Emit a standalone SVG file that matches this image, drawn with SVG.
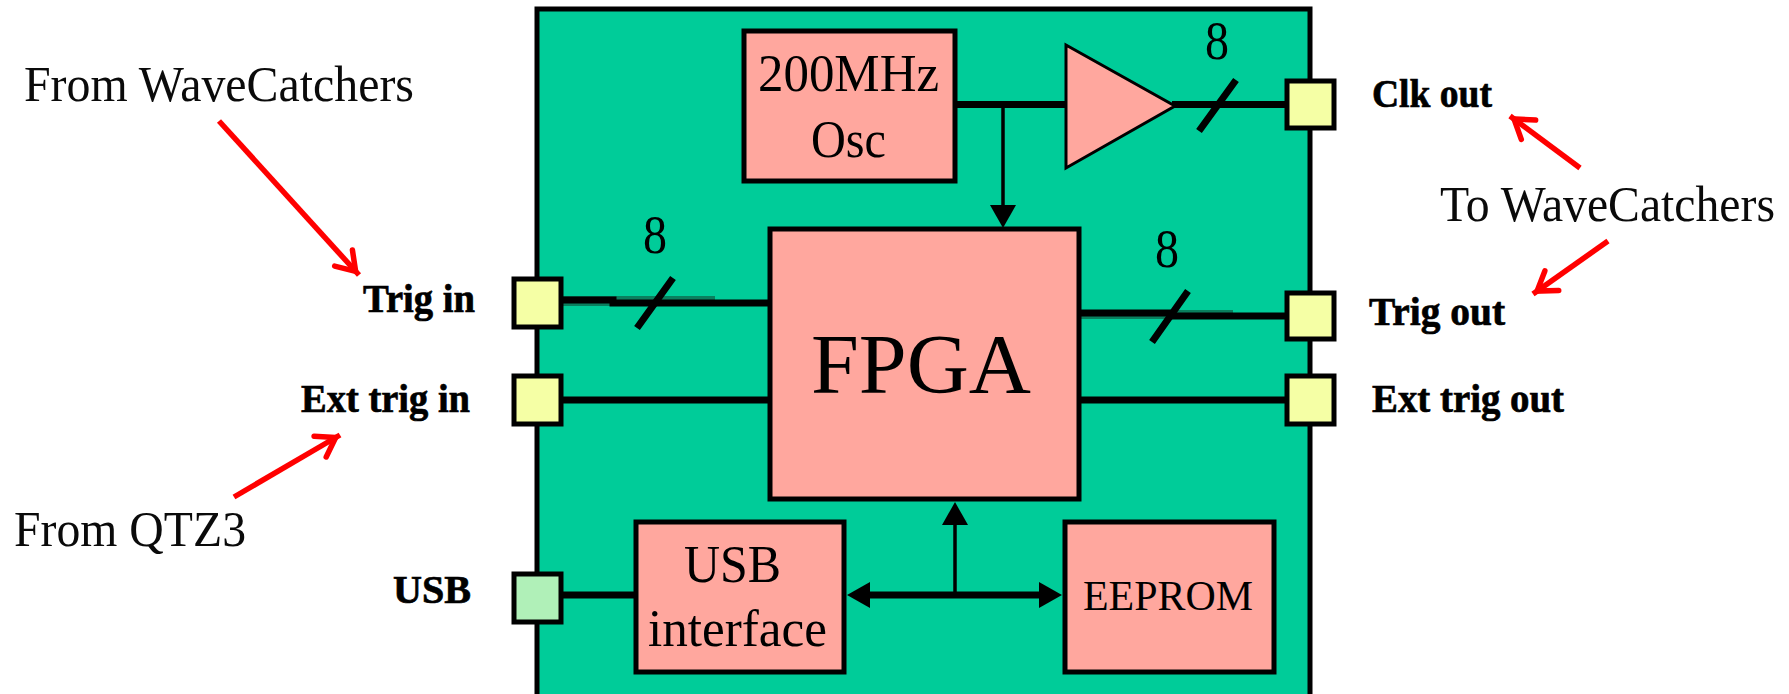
<svg xmlns="http://www.w3.org/2000/svg" width="1789" height="694" viewBox="0 0 1789 694">
<style>
.box{fill:#FFA79E;stroke:#000;stroke-width:5}
.port{fill:#F5FFA5;stroke:#000;stroke-width:5}
.usb{fill:#B0F0B8;stroke:#000;stroke-width:5}
.w{stroke:#000;stroke-width:7;fill:none}
.t{stroke:#000;stroke-width:3.500;fill:none}
.s{stroke:#000;stroke-width:7;fill:none}
.band{fill:#0A7F5E;stroke:none}
.r{stroke:#FF0000;stroke-width:5.500;fill:none}
text{font-family:"Liberation Serif","Times New Roman",serif;fill:#000}
.in{font-size:52px}
.num{font-size:54px}
.lab{font-weight:bold;font-size:41px;stroke:#000;stroke-width:0.700}
.note{font-size:50px;fill:#0A0A0A}
</style>
<defs>
<marker id="head" markerUnits="userSpaceOnUse" markerWidth="24" markerHeight="26" refX="8" refY="13" orient="auto-start-reverse"><path d="M0,0 L23,13 L0,26 Z" fill="#000"/></marker>
<marker id="open" markerUnits="userSpaceOnUse" markerWidth="34" markerHeight="34" refX="29" refY="15" orient="auto" overflow="visible"><path d="M6,3 L24,15 L6,27" fill="none" stroke="#FF0000" stroke-width="5.500" stroke-linecap="round"/></marker>
</defs>
<rect width="1789" height="694" fill="#FFF"/>
<g id="board"><rect x="537" y="9" width="773" height="690" fill="#00CC99" stroke="#000" stroke-width="5"/></g>
<g id="connectors">
<rect class="band" x="563" y="296" width="152" height="10"/>
<rect class="band" x="1079" y="310" width="154" height="9"/>
<path class="w" d="M955,104.500H1066M1172,104.500H1287"/>
<path class="t" d="M1003,104V213" marker-end="url(#head)"/>
<path class="w" d="M563,300H613V303H770" stroke-width="5"/>
<path class="w" d="M1079,313H1170V316H1287" stroke-width="5"/>
<path class="w" d="M563,400H770M1079,400H1287M563,595H636"/>
<path class="w" d="M862,595H1047" marker-start="url(#head)" marker-end="url(#head)"/>
<path class="t" d="M955,595V517" marker-end="url(#head)"/>
<path class="s" d="M1236,80L1199,131M673,278L637,328M1188,291L1152,342"/>
<path class="r" d="M219,121L359,275" marker-end="url(#open)"/>
<path class="r" d="M234,497L340,435" marker-end="url(#open)"/>
<path class="r" d="M1580,168L1510,116" marker-end="url(#open)"/>
<path class="r" d="M1608,241L1533,294" marker-end="url(#open)"/>
</g>
<g id="osc"><rect class="box" x="744" y="31" width="211" height="150"/><text class="in" x="758" y="91" textLength="181" lengthAdjust="spacingAndGlyphs">200MHz</text><text class="in" x="811" y="157" textLength="75" lengthAdjust="spacingAndGlyphs">Osc</text></g>
<g id="amp"><polygon points="1066,45 1175,106 1066,168" fill="#FFA79E" stroke="#000" stroke-width="3"/></g>
<g id="fpga"><rect class="box" x="770" y="229" width="309" height="270"/><text x="811" y="393" font-size="85" textLength="220" lengthAdjust="spacingAndGlyphs">FPGA</text></g>
<g id="usbif"><rect class="box" x="636" y="522" width="208" height="150"/><text class="in" x="684" y="582" textLength="97" lengthAdjust="spacingAndGlyphs">USB</text><text class="in" x="648" y="646" textLength="179" lengthAdjust="spacingAndGlyphs">interface</text></g>
<g id="eeprom"><rect class="box" x="1065" y="522" width="209" height="150"/><text x="1083" y="610" font-size="42" textLength="170" lengthAdjust="spacingAndGlyphs">EEPROM</text></g>
<g id="port-clk-out"><rect class="port" x="1287" y="81" width="47" height="47"/><text class="lab" x="1372" y="107" textLength="120" lengthAdjust="spacingAndGlyphs">Clk out</text></g>
<g id="port-trig-out"><rect class="port" x="1287" y="293" width="47" height="46"/><text class="lab" x="1369" y="325" textLength="136" lengthAdjust="spacingAndGlyphs">Trig out</text></g>
<g id="port-ext-out"><rect class="port" x="1287" y="376" width="47" height="48"/><text class="lab" x="1372" y="412" textLength="192" lengthAdjust="spacingAndGlyphs">Ext trig out</text></g>
<g id="port-trig-in"><rect class="port" x="514" y="279" width="47" height="48"/><text class="lab" x="363" y="312" textLength="112" lengthAdjust="spacingAndGlyphs">Trig in</text></g>
<g id="port-ext-in"><rect class="port" x="514" y="376" width="47" height="48"/><text class="lab" x="301" y="412" textLength="169" lengthAdjust="spacingAndGlyphs">Ext trig in</text></g>
<g id="port-usb"><rect class="usb" x="514" y="574" width="47" height="48"/><text class="lab" x="393" y="603" textLength="78" lengthAdjust="spacingAndGlyphs">USB</text></g>
<g id="labels">
<text class="num" x="1205" y="59" textLength="24" lengthAdjust="spacingAndGlyphs">8</text>
<text class="num" x="643" y="253" textLength="24" lengthAdjust="spacingAndGlyphs">8</text>
<text class="num" x="1155" y="267" textLength="24" lengthAdjust="spacingAndGlyphs">8</text>
<text class="note" x="24" y="101" textLength="390" lengthAdjust="spacingAndGlyphs">From WaveCatchers</text>
<text class="note" x="14" y="546" textLength="232" lengthAdjust="spacingAndGlyphs">From QTZ3</text>
<text class="note" x="1440" y="221" textLength="335" lengthAdjust="spacingAndGlyphs">To WaveCatchers</text>
</g>
</svg>
